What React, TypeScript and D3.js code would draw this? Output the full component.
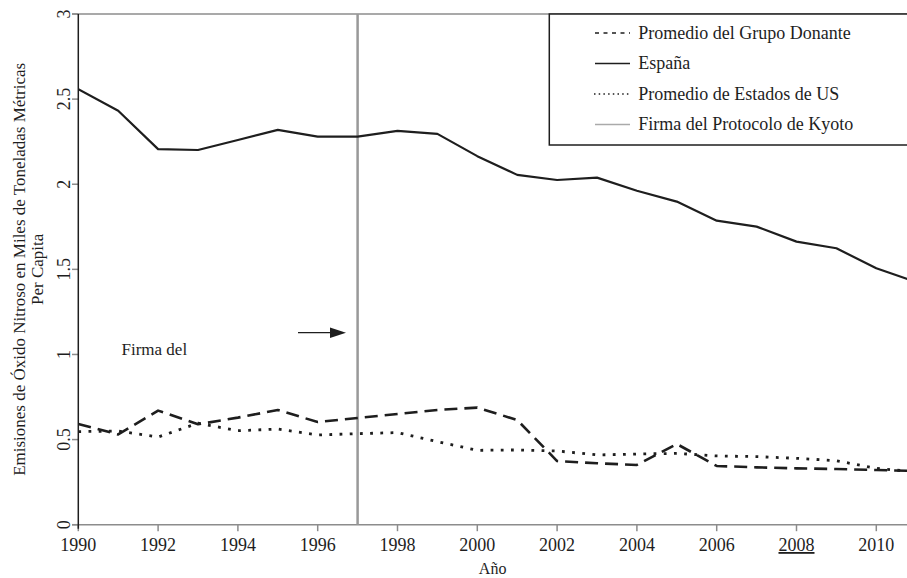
import React from "react";
import * as d3 from "d3";

const years = [1990, 1991, 1992, 1993, 1994, 1995, 1996, 1997, 1998, 1999, 2000, 2001, 2002, 2003, 2004, 2005, 2006, 2007, 2008, 2009, 2010, 2011];
const espana = [2.558, 2.432, 2.206, 2.201, 2.26, 2.319, 2.28, 2.28, 2.313, 2.296, 2.165, 2.055, 2.025, 2.039, 1.962, 1.898, 1.786, 1.751, 1.663, 1.624, 1.506, 1.425];
const donante = [0.592, 0.53, 0.67, 0.59, 0.629, 0.674, 0.603, 0.627, 0.65, 0.674, 0.688, 0.615, 0.374, 0.361, 0.351, 0.474, 0.345, 0.337, 0.331, 0.327, 0.321, 0.316];
const usEstados = [0.547, 0.55, 0.515, 0.596, 0.552, 0.562, 0.527, 0.535, 0.541, 0.488, 0.437, 0.439, 0.433, 0.41, 0.415, 0.419, 0.404, 0.4, 0.39, 0.376, 0.331, 0.31];
const kyotoYear = 1997;
const xTicks = [1990, 1992, 1994, 1996, 1998, 2000, 2002, 2004, 2006, 2008, 2010];
const yTicks = [0, 0.5, 1, 1.5, 2, 2.5, 3];
const legendLabels = ["Promedio del Grupo Donante", "España", "Promedio de Estados de US", "Firma del Protocolo de Kyoto"];

const W = 907;
const H = 578;
const FONT = "'Liberation Serif', 'Times New Roman', serif";

export default function App() {
  const x = d3.scaleLinear().domain([1990, 2010]).range([78.3, 876.3]);
  const y = d3.scaleLinear().domain([0, 3]).range([524.7, 14]);
  const mk = (vals: number[]) =>
    d3.line<number>().x((_, i) => x(years[i])).y((v) => y(v))(vals) || "";

  const axisGray = "#8c8c8c";
  const ink = "#1e1e1e";
  const legendRows = [33, 63.5, 94, 124.5];

  return (
    <svg width={W} height={H} style={{ position: "absolute", left: 0, top: 0, background: "#fff" }} fontFamily={FONT}>
      <defs>
        <clipPath id="plot">
          <rect x={x(1990)} y={0} width={W - x(1990)} height={y(0)} />
        </clipPath>
      </defs>
      {/* top line and x-axis */}
      <line x1={72} x2={W} y1={y(3)} y2={y(3)} stroke={axisGray} strokeWidth={1.5} />
      <line x1={72} x2={W} y1={y(0)} y2={y(0)} stroke={axisGray} strokeWidth={1.5} />
      {/* y ticks */}
      {yTicks.map((t) => (
        <g key={t}>
          <line x1={72} x2={x(1990)} y1={y(t)} y2={y(t)} stroke={axisGray} strokeWidth={1.5} />
          <text
            transform={`translate(70,${y(t)}) rotate(-90)`}
            textAnchor="middle"
            fontSize={18}
            fill={ink}
          >
            {t}
          </text>
        </g>
      ))}
      {/* x ticks */}
      {xTicks.map((t) => (
        <g key={t}>
          <line x1={x(t)} x2={x(t)} y1={y(0)} y2={y(0) + 6.5} stroke={axisGray} strokeWidth={1.5} />
          <text
            x={x(t)}
            y={551}
            textAnchor="middle"
            fontSize={18}
            fill={ink}
            textDecoration={t === 2008 ? "underline" : undefined}
          >
            {t}
          </text>
        </g>
      ))}
      {/* y axis */}
      <line x1={x(1990)} x2={x(1990)} y1={y(3)} y2={y(0) + 4} stroke={ink} strokeWidth={1.5} />

      {/* titles */}
      <text transform={`translate(25,${(y(0) + y(3)) / 2}) rotate(-90)`} textAnchor="middle" fontSize={17} fill={ink}>
        Emisiones de Óxido Nitroso en Miles de Toneladas Métricas
      </text>
      <text transform={`translate(43,${(y(0) + y(3)) / 2}) rotate(-90)`} textAnchor="middle" fontSize={17} fill={ink}>
        Per Capita
      </text>
      <text x={(x(1990) + W) / 2} y={574} textAnchor="middle" fontSize={16} fill={ink}>
        Año
      </text>

      {/* Kyoto line */}
      <line x1={x(kyotoYear)} x2={x(kyotoYear)} y1={y(3)} y2={y(0)} stroke="#999" strokeWidth={2.5} />

      {/* series */}
      <g clipPath="url(#plot)" fill="none" strokeLinejoin="round">
        <path d={mk(espana)} stroke={ink} strokeWidth={2.2} />
        <path d={mk(donante)} stroke={ink} strokeWidth={2.6} strokeDasharray="13,7" />
        <path d={mk(usEstados)} stroke={ink} strokeWidth={2.8} strokeDasharray="2.8,7.4" />
      </g>

      {/* annotation */}
      <text x={121.5} y={355} fontSize={17} fill={ink}>
        Firma del
      </text>
      <line x1={298} x2={332} y1={332.7} y2={332.7} stroke={ink} strokeWidth={1.3} />
      <path d="M330,327.5 L346,332.7 L330,337.9 Z" fill={ink} />

      {/* legend */}
      <rect x={549.3} y={y(3)} width={W} height={145 - y(3)} fill="#fff" stroke={ink} strokeWidth={1.5} />
      <line x1={595} x2={630} y1={legendRows[0]} y2={legendRows[0]} stroke={ink} strokeWidth={1.5} strokeDasharray="4,4.5" />
      <line x1={595} x2={630} y1={legendRows[1]} y2={legendRows[1]} stroke={ink} strokeWidth={1.5} />
      <line x1={594} x2={630} y1={legendRows[2]} y2={legendRows[2]} stroke={ink} strokeWidth={1.5} strokeDasharray="1.5,3.2" />
      <line x1={595} x2={630} y1={legendRows[3]} y2={legendRows[3]} stroke="#aaa" strokeWidth={1.5} />
      {legendLabels.map((l, i) => (
        <text key={l} x={638.3} y={legendRows[i] + 5.5} fontSize={18} fill={ink}>
          {l}
        </text>
      ))}
    </svg>
  );
}
